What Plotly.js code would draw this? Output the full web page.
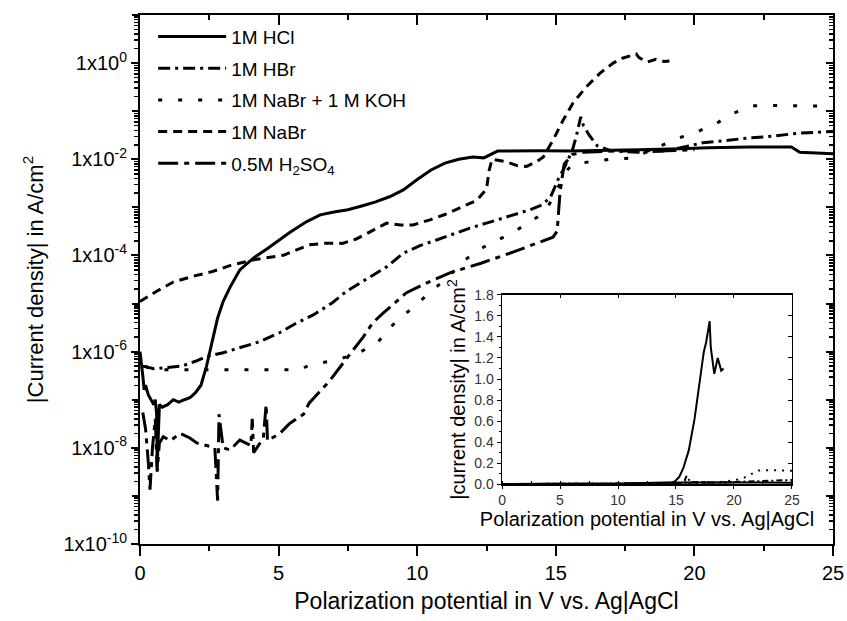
<!DOCTYPE html>
<html><head><meta charset="utf-8">
<script src="https://cdn.plot.ly/plotly-3.0.1.min.js"></script>
<style>html,body{margin:0;padding:0;background:#fff}#chart{width:847px;height:621px}</style>
</head><body><div id="chart"></div>
<script>
// ---- data (current density in A/cm^2 vs potential in V) ----
const seriesNames = ['1M HCl', '1M HBr', '1M NaBr + 1 M KOH', '1M NaBr', '0.5M H<sub>2</sub>SO<sub>4</sub>'];

const hclV = [0, 0.05, 0.1, 0.15, 0.2, 0.3, 0.4, 0.5, 0.55, 0.6, 0.62, 0.7, 0.8, 1.0, 1.2, 1.4, 1.6, 1.8, 2.0, 2.2, 2.4, 2.6, 2.8, 3.0, 3.25, 3.6, 4.1, 4.6, 5.4, 6.0, 6.5, 7.0, 7.5, 8.0, 8.5, 9.0, 9.5, 10.0, 10.5, 11.0, 11.5, 12.0, 12.4, 12.9, 13.5, 14.5, 15.5, 16.5, 18, 19.5, 20.5, 22, 23.5, 23.8, 24.2, 25];
const hclJ = [1e-6, 6.3e-7, 3.2e-7, 1.6e-7, 2e-7, 1.26e-7, 1e-7, 7.9e-8, 1e-7, 5e-8, 4e-9, 7.9e-8, 7e-8, 7.9e-8, 1e-7, 8.9e-8, 1e-7, 1.1e-7, 1.4e-7, 2e-7, 5e-7, 1.6e-6, 5e-6, 1.1e-5, 2.2e-5, 5e-5, 8.9e-5, 1.4e-4, 3e-4, 5e-4, 7e-4, 8e-4, 8.9e-4, 1.07e-3, 1.3e-3, 1.66e-3, 2.3e-3, 3.8e-3, 6e-3, 8.3e-3, 1e-2, 1.12e-2, 1.07e-2, 1.48e-2, 1.5e-2, 1.5e-2, 1.48e-2, 1.5e-2, 1.58e-2, 1.66e-2, 1.74e-2, 1.8e-2, 1.8e-2, 1.4e-2, 1.35e-2, 1.3e-2];

const hbrV = [0.1, 0.5, 1.0, 1.5, 2.0, 2.4, 3.0, 3.6, 4.3, 5.05, 5.6, 6.25, 6.9, 7.45, 8.3, 8.9, 9.5, 10.1, 10.7, 11.3, 11.9, 12.5, 13.1, 13.6, 14.07, 14.5, 14.8, 14.95, 15.1, 15.27, 15.45, 15.6, 15.75, 15.9, 16.0, 16.2, 16.5, 17, 18, 19, 19.8, 20.3, 21, 21.9, 22.5, 23.1, 23.8, 24.6, 25];
const hbrJ = [5e-7, 4.4e-7, 4.7e-7, 5e-7, 6.3e-7, 7.9e-7, 9.5e-7, 1.2e-6, 1.6e-6, 2.5e-6, 3.8e-6, 5.8e-6, 1e-5, 1.8e-5, 3.6e-5, 5.8e-5, 1.12e-4, 1.6e-4, 2.1e-4, 2.8e-4, 3.7e-4, 4.7e-4, 6e-4, 7.4e-4, 8.9e-4, 1.12e-3, 1.6e-3, 2.5e-3, 4e-3, 6e-3, 1e-2, 1.55e-2, 3.2e-2, 7.6e-2, 5e-2, 3.2e-2, 1.9e-2, 1.5e-2, 1.4e-2, 1.5e-2, 1.9e-2, 2.2e-2, 2.4e-2, 2.75e-2, 2.9e-2, 3.2e-2, 3.5e-2, 3.7e-2, 3.8e-2];

const kohV = [0.2, 0.4, 1, 2, 3, 4, 5, 5.77, 6.1, 7.1, 7.8, 8.55, 9.1, 9.85, 10.46, 11.1, 11.7, 12.4, 13.45, 14.07, 14.6, 15.0, 15.3, 15.6, 16.3, 16.95, 17.7, 18.5, 19.4, 20, 20.8, 21.4, 22.1, 23, 24, 25];
const kohJ = [5e-7, 4.2e-7, 4.2e-7, 4.2e-7, 4.2e-7, 4.2e-7, 4.2e-7, 4.2e-7, 5.2e-7, 6.8e-7, 8.9e-7, 1.5e-6, 3.5e-6, 8.5e-6, 1.7e-5, 3.5e-5, 7.9e-5, 1.5e-4, 3e-4, 5e-4, 7.9e-4, 2e-3, 5e-3, 7.9e-3, 8.9e-3, 1e-2, 1.05e-2, 1.6e-2, 2.75e-2, 3.5e-2, 5.6e-2, 9e-2, 1.29e-1, 1.32e-1, 1.29e-1, 1.26e-1];

const nabrV = [0, 0.6, 1.2, 2.0, 2.6, 3.3, 4.1, 5.2, 6.1, 6.7, 7.3, 7.8, 8.3, 8.9, 9.4, 9.85, 10.46, 11.0, 11.54, 12.15, 12.5, 12.6, 12.7, 13.2, 13.6, 13.95, 14.3, 14.55, 14.9, 15.27, 15.62, 16.1, 16.6, 17.07, 17.4, 17.6, 17.9, 18.0, 18.3, 18.6, 18.9, 19.1];
const nabrJ = [1.1e-5, 1.8e-5, 2.8e-5, 3.8e-5, 4.6e-5, 6.3e-5, 8.1e-5, 1.02e-4, 1.66e-4, 1.8e-4, 1.78e-4, 2.2e-4, 3.1e-4, 4.7e-4, 4.3e-4, 4.3e-4, 5.5e-4, 7.1e-4, 9.8e-4, 1.4e-3, 2.4e-3, 6e-3, 1e-2, 8.9e-3, 7.4e-3, 7.1e-3, 8.9e-3, 1.12e-2, 2.5e-2, 6.6e-2, 1.48e-1, 3.2e-1, 6.2e-1, 1.0, 1.26, 1.35, 1.55, 1.3, 1.05, 1.2, 1.08, 1.1];

const h2so4V = [0.1, 0.2, 0.3, 0.36, 0.45, 0.55, 0.62, 0.7, 0.84, 1.1, 1.44, 1.8, 2.05, 2.4, 2.7, 2.8, 2.85, 3.0, 3.25, 3.6, 4.0, 4.05, 4.1, 4.45, 4.55, 4.6, 5.05, 5.4, 5.9, 6.1, 6.85, 7.6, 8.05, 8.4, 8.77, 9.6, 10.35, 11.2, 12.3, 13.45, 14.9, 15.05, 15.15, 15.3, 15.6, 16.0, 17, 18, 19, 20];
const h2so4J = [5.4e-8, 2.5e-8, 5e-9, 1.35e-9, 1e-8, 4e-8, 3.2e-9, 1.26e-8, 1.7e-8, 1.4e-8, 2e-8, 1.6e-8, 1.26e-8, 1.12e-8, 1e-8, 8e-10, 5e-8, 1e-8, 9e-9, 1.45e-8, 1.12e-8, 4e-8, 7.9e-9, 1.6e-8, 7.9e-8, 1.4e-8, 2e-8, 3.2e-8, 5e-8, 8.5e-8, 2.5e-7, 9.3e-7, 2e-6, 4e-6, 6.3e-6, 1.66e-5, 2.7e-5, 4.4e-5, 6.9e-5, 1.17e-4, 2.4e-4, 3.2e-4, 2e-3, 7.9e-3, 1.26e-2, 1.4e-2, 1.48e-2, 1.5e-2, 1.5e-2, 1.58e-2];

// axis tick definitions
const xTickVals = [0, 5, 10, 15, 20, 25];
const yLabelExp = [-10, -8, -6, -4, -2, 0];
const yOddExp = [-9, -7, -5, -3, -1, 1];
const insetYTicks = [0, 0.2, 0.4, 0.6, 0.8, 1.0, 1.2, 1.4, 1.6, 1.8];

// ---- styles ----
const dashes = ['solid', '12px,5px,3px,5px', '4px,16px', '9px,6px', '20px,6px,5px,6px'];
const insetDashes = ['solid', '6px,3px,2px,3px', '2px,6px', 'solid', '8px,3px,3px,3px'];
const allV = [hclV, hbrV, kohV, nabrV, h2so4V];
const allJ = [hclJ, hbrJ, kohJ, nabrJ, h2so4J];

const font = 'Liberation Sans, Arial, sans-serif';
const traces = [];
for (let i = 0; i < 5; i++) {
  traces.push({
    x: allV[i], y: allJ[i], type: 'scatter', mode: 'lines', name: seriesNames[i],
    legendgroup: 'g' + i, xaxis: 'x', yaxis: 'y',
    line: {color: '#000', width: 3, dash: dashes[i]}
  });
}
for (let i = 0; i < 5; i++) {
  traces.push({
    x: allV[i], y: allJ[i], type: 'scatter', mode: 'lines', showlegend: false,
    xaxis: 'x2', yaxis: 'y2', hoverinfo: 'skip',
    line: {color: '#000', width: 2, dash: insetDashes[i]}
  });
}
// empty carriers so the frame / mirror-tick axes get drawn
[['x3', 'y3'], ['x3', 'y5'], ['x4', 'y4']].forEach(p => traces.push({
  x: [], y: [], type: 'scatter', mode: 'lines', showlegend: false, xaxis: p[0], yaxis: p[1], hoverinfo: 'skip'
}));

const pow10 = e => Math.pow(10, e);
const yTickVals = yLabelExp.map(pow10);
const yTickText = yLabelExp.map(e => '1x10<sup>' + e + '</sup>');
const yAllDecades = yLabelExp.concat(yOddExp).map(pow10);
const yMinor = [];
for (let e = -10; e < 1; e++) for (let m = 2; m <= 9; m++) yMinor.push(m * pow10(e));

const axisCommon = {showline: true, linecolor: '#000', linewidth: 2, tickcolor: '#000', tickwidth: 2, showgrid: false, zeroline: false};
const minorY = (dir) => ({tickvals: yMinor, ticks: dir, ticklen: 4, tickwidth: 1.5, tickcolor: '#000', showgrid: false});

const layout = {
  width: 847, height: 621,
  margin: {l: 140, r: 14, t: 15, b: 77},
  paper_bgcolor: '#fff', plot_bgcolor: 'rgba(0,0,0,0)',
  font: {family: font, color: '#000', size: 20},
  showlegend: true,
  legend: {x: 0.019, y: 0.995, xanchor: 'left', yanchor: 'top', bgcolor: 'rgba(0,0,0,0)',
           font: {family: font, size: 19, color: '#000'}, itemwidth: 68, tracegroupgap: 4},
  xaxis: Object.assign({}, axisCommon, {
    domain: [0, 1], anchor: 'y', range: [0, 25], tickmode: 'array', tickvals: xTickVals,
    ticks: 'outside', ticklen: 10, tickfont: {size: 20},
    minor: {dtick: 2.5, ticks: 'outside', ticklen: 5, tickwidth: 2, tickcolor: '#000', showgrid: false},
    title: {text: 'Polarization potential in V vs. Ag|AgCl', font: {size: 23}, standoff: 10}
  }),
  yaxis: Object.assign({}, axisCommon, {
    domain: [0, 1], anchor: 'x', type: 'log', range: [-10, 1], tickmode: 'array',
    tickvals: yTickVals, ticktext: yTickText, ticks: 'outside', ticklen: 7, tickfont: {size: 20},
    minor: minorY('outside'),
    title: {text: '|Current density| in A/cm<sup>2</sup>', font: {size: 22}, standoff: 14}
  }),
  yaxis5: {
    overlaying: 'y', side: 'left', anchor: 'x', type: 'log', range: [-10, 1], tickmode: 'array',
    tickvals: yOddExp.map(pow10), ticks: 'outside', ticklen: 7, tickwidth: 2, tickcolor: '#000',
    showticklabels: false, showline: false, showgrid: false, zeroline: false
  },
  xaxis3: Object.assign({}, axisCommon, {
    overlaying: 'x', side: 'top', anchor: 'y', range: [0, 25], tickmode: 'array', tickvals: xTickVals,
    ticks: 'inside', ticklen: 10, showticklabels: false,
    minor: {dtick: 2.5, ticks: 'inside', ticklen: 5, tickwidth: 2, tickcolor: '#000', showgrid: false}
  }),
  yaxis3: Object.assign({}, axisCommon, {
    overlaying: 'y', side: 'right', anchor: 'x', type: 'log', range: [-10, 1], tickmode: 'array',
    tickvals: yAllDecades, ticks: 'inside', ticklen: 7, showticklabels: false,
    minor: minorY('inside')
  }),
  xaxis2: Object.assign({}, axisCommon, {
    domain: [0.5224, 0.9408], anchor: 'y2', range: [0, 25], tickmode: 'array', tickvals: xTickVals,
    linewidth: 1.5, tickwidth: 1, ticks: 'outside', ticklen: 3, tickfont: {size: 14, color: '#333'},
    minor: {dtick: 2.5, ticks: 'inside', ticklen: 3, tickwidth: 1, tickcolor: '#000', showgrid: false},
    title: {text: 'Polarization potential in V vs. Ag|AgCl', font: {size: 20}, standoff: 1}
  }),
  yaxis2: Object.assign({}, axisCommon, {
    domain: [0.1134, 0.4707], anchor: 'x2', range: [0, 1.8], tickmode: 'array', tickvals: insetYTicks,
    tickformat: '.1f', linewidth: 1.5, tickwidth: 1, ticks: 'outside', ticklen: 4, tickfont: {size: 14, color: '#333'},
    minor: {dtick: 0.1, ticks: 'outside', ticklen: 2, tickwidth: 1, tickcolor: '#000', showgrid: false},
    title: {text: '|current density| in A/cm<sup>2</sup>', font: {size: 20}, standoff: 3}
  }),
  xaxis4: Object.assign({}, axisCommon, {
    overlaying: 'x2', side: 'top', anchor: 'y4', range: [0, 25], tickmode: 'array', tickvals: xTickVals,
    linewidth: 1.5, tickwidth: 1, ticks: 'inside', ticklen: 3, showticklabels: false
  }),
  yaxis4: Object.assign({}, axisCommon, {
    overlaying: 'y2', side: 'right', anchor: 'x4', range: [0, 1.8], tickmode: 'array', tickvals: insetYTicks,
    linewidth: 1.5, tickwidth: 1, ticks: 'inside', ticklen: 4, showticklabels: false
  })
};

Plotly.newPlot('chart', traces, layout, {displayModeBar: false, staticPlot: true});
</script>
</body></html>
